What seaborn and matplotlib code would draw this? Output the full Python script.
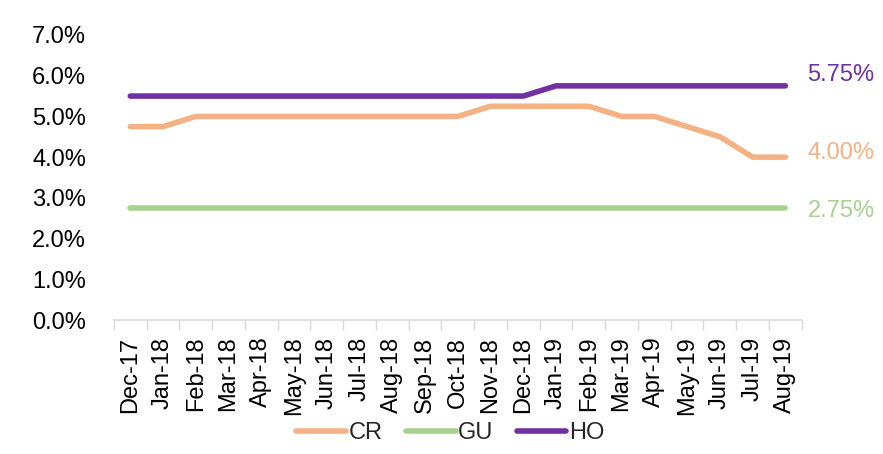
import matplotlib
matplotlib.use("Agg")
import matplotlib.pyplot as plt
import seaborn as sns
import pandas as pd
import numpy as np
from matplotlib.ticker import FuncFormatter, FixedLocator
from matplotlib.lines import Line2D

months = ["Dec-17", "Jan-18", "Feb-18", "Mar-18", "Apr-18", "May-18", "Jun-18",
          "Jul-18", "Aug-18", "Sep-18", "Oct-18", "Nov-18", "Dec-18", "Jan-19",
          "Feb-19", "Mar-19", "Apr-19", "May-19", "Jun-19", "Jul-19", "Aug-19"]
cr = [4.75, 4.75, 5.00, 5.00, 5.00, 5.00, 5.00, 5.00, 5.00, 5.00, 5.00, 5.25,
      5.25, 5.25, 5.25, 5.00, 5.00, 4.75, 4.50, 4.00, 4.00]
gu = [2.75] * 21
ho = [5.50] * 13 + [5.75] * 8
series_names = ["CR", "GU", "HO"]
colors = {"CR": "#F4B183", "GU": "#A9D18E", "HO": "#7030A0"}
end_labels = {"HO": "5.75%", "CR": "4.00%", "GU": "2.75%"}

sns.set_theme(style="white")
plt.rcParams['font.family'] = ['Liberation Sans Narrow', 'Liberation Sans', 'DejaVu Sans']

rows = []
for name, vals in zip(series_names, [cr, gu, ho]):
    for i, (m, v) in enumerate(zip(months, vals)):
        rows.append({"idx": i, "month": m, "series": name, "value": v})
df = pd.DataFrame(rows)

fig = plt.figure(figsize=(8.83, 4.54), dpi=100)
ax = fig.add_axes([0.129, 0.295, 0.779, 0.628])

sns.lineplot(data=df, x="idx", y="value", hue="series", palette=colors,
             hue_order=series_names, linewidth=4.0, ax=ax, legend=False,
             solid_capstyle="round")

ax.set_xlim(-0.5, len(months) - 0.5)
ax.set_ylim(0, 7)
ax.set_yticks(np.arange(0, 7.01, 1))
ax.yaxis.set_major_formatter(FuncFormatter(lambda v, p: f"{v:.1f}%"))
ax.set_xticks(range(len(months)))
ax.set_xticklabels(months, rotation=90)
ax.xaxis.set_minor_locator(FixedLocator(np.arange(-0.5, len(months), 1.0)))
ax.tick_params(axis="x", which="major", length=0, pad=12, labelsize=17, colors="#000000")
ax.tick_params(axis="x", which="minor", length=7, width=1, color="#D9D9D9", direction="out", bottom=True)
ax.tick_params(axis="y", length=0, pad=20, labelsize=17, colors="#000000")
ax.set_xlabel("")
ax.set_ylabel("")
for s in ["top", "right", "left"]:
    ax.spines[s].set_visible(False)
ax.spines["bottom"].set_color("#D9D9D9")
ax.spines["bottom"].set_linewidth(1.2)
ax.grid(False)

offsets = {"HO": 8, "CR": 3, "GU": -2}
last = len(months) - 1
for name, vals in zip(series_names, [cr, gu, ho]):
    ax.annotate(end_labels[name], xy=(last, vals[-1]), xytext=(16, offsets[name]),
                textcoords="offset points", color=colors[name], fontsize=17,
                va="center", ha="left", annotation_clip=False)

handles = [Line2D([0], [0], color=colors[n], lw=4.0, solid_capstyle="round") for n in series_names]
fig.legend(handles, series_names, loc="center", bbox_to_anchor=(0.51, 1 - 433 / 454),
           ncol=3, frameon=False, fontsize=17, handlelength=2.1, handletextpad=0.1,
           columnspacing=1.0)

fig.savefig("out.png", dpi=100)
